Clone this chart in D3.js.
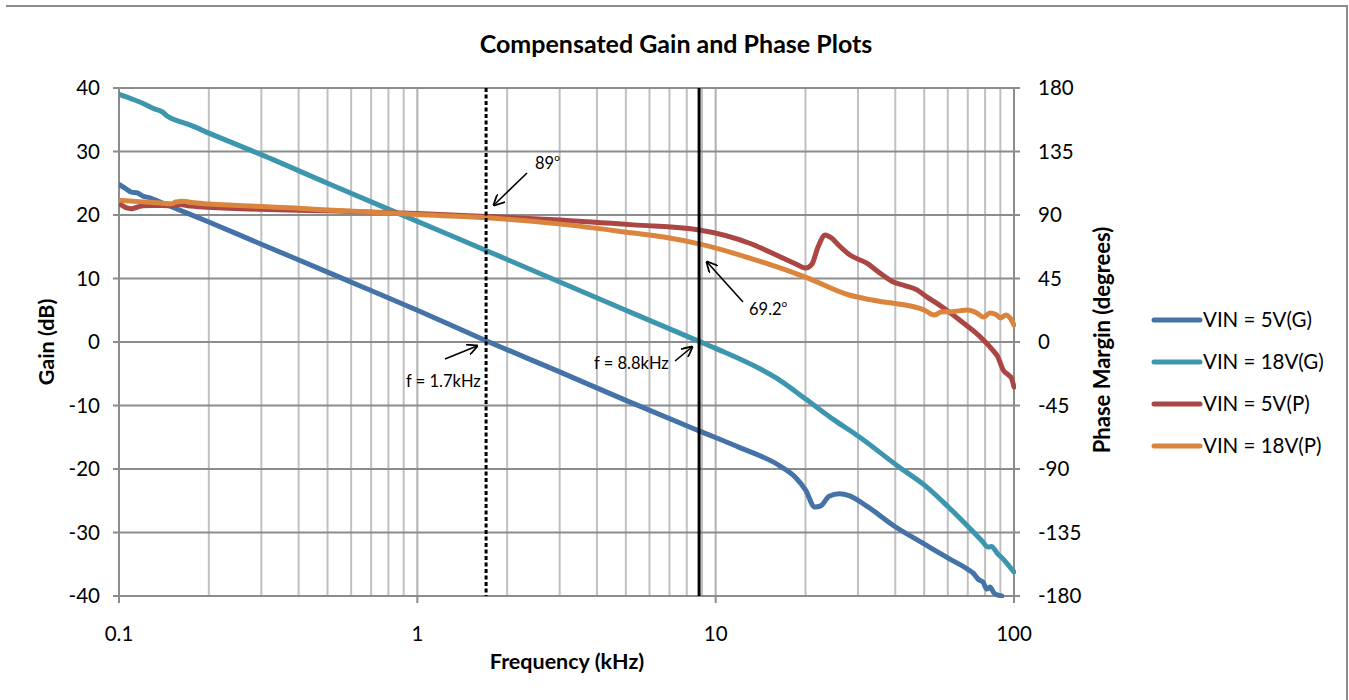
<!DOCTYPE html>
<html>
<head>
<meta charset="utf-8">
<script src="https://cdn.jsdelivr.net/npm/d3@7"></script>
<style>
  html, body { margin: 0; padding: 0; background: #fff; }
  #chart { width: 1349px; height: 700px; }
  text { font-family: Lato, "Open Sans", sans-serif; fill: #000; }
</style>
</head>
<body>
<div id="chart"></div>
<script>
// gain / phase curves (freq in kHz)
const freq5G  = [0.1,0.105,0.11,0.115,0.12,0.127,0.135,0.15,0.2,0.3,0.5,1,1.7,3,5,8.8,12,16.4,18.5,20,21.5,22.5,24,26,28,32,40,50,60,70,73,76,78.7,81,83,86,91];
const gain5G  = [24.8,24.2,23.6,23.5,23.0,22.7,22.2,21.3,18.9,15.4,11.0,5.0,0.2,-4.7,-9.2,-14.0,-16.6,-19.5,-21.3,-23.3,-26.0,-25.8,-24.3,-23.9,-24.2,-25.8,-29.1,-31.8,-34.0,-35.8,-36.4,-37.4,-37.8,-38.9,-38.6,-39.6,-40];

const freq18G = [0.1,0.11,0.12,0.13,0.14,0.145,0.15,0.16,0.17,0.2,0.3,0.5,1,2,5,8.8,10,16,20.2,25,30,41.5,50,60,73,78,81.8,84,88,92,96,100];
const gain18G = [39.0,38.3,37.6,36.8,36.2,35.6,35.2,34.7,34.3,32.9,29.5,25.0,19.0,13.0,5.0,0.1,-1.0,-5.7,-9.1,-12.3,-14.8,-19.8,-22.5,-25.9,-29.9,-31.3,-32.3,-32.2,-33.3,-34.2,-35.2,-36.2];

const freq5P  = [0.1,0.103,0.106,0.11,0.115,0.12,0.13,0.15,0.16,0.17,0.2,0.3,0.5,1,1.7,3,5.3,8.8,13,16.8,18.5,20,21,22,23.3,24.5,26,28.2,32,36,39.4,43,47.3,51,55,60,67,73,79,85,88,92,96,98,100];
const phase5P = [98,96.5,95.0,94.5,95.5,96.5,96.8,96.5,97.5,96.5,95.5,94.0,93.0,91.0,89.0,86.5,83.0,79.4,70.0,59.5,55.5,52.4,55,67,75.8,73.5,68,61.6,56,48,42.5,40,36.9,32,27.6,22,14.2,8,1.4,-6,-10,-19.8,-23.5,-25.5,-31.9];

const freq18P = [0.1,0.12,0.14,0.15,0.155,0.165,0.175,0.2,0.25,0.3,0.4,0.5,0.7,1,1.7,3.2,5.3,6.7,8.8,13,20,28,33,36,39,45,50,54,57,62,70,75,79,83,87,90,94,97,100];
const phase18P= [100.5,99.3,98.3,98.0,99.2,99.8,98.8,97.8,96.8,96.0,94.8,93.5,92.0,90.3,88.0,83.0,77.2,74.4,69.5,59.5,46,33.3,30,28.5,27.6,25.5,22.7,19.1,21.2,21.5,22.7,20.5,17.7,20.5,19.5,17,19.1,17,12];

const seriesNames = ["VIN = 5V(G)", "VIN = 18V(G)", "VIN = 5V(P)", "VIN = 18V(P)"];
const seriesColors = ["#4572A7", "#3D96AE", "#AA4643", "#DB843D"];

const xTicks = [0.1, 1, 10, 100];
const xTickLabels = ["0.1", "1", "10", "100"];
const gainTicks = [40, 30, 20, 10, 0, -10, -20, -30, -40];
const phaseTicks = [180, 135, 90, 45, 0, -45, -90, -135, -180];

// crossover markers
const markers = [
  { f: 1.7, dash: "4,2.5" },
  { f: 8.8, dash: null }
];

const W = 1349, H = 700;
const svg = d3.select('#chart').append('svg').attr('width', W).attr('height', H);

// outer chart border (cut off at left/bottom like the screenshot)
svg.append('path')
  .attr('d', 'M6,6 H1347 V700')
  .attr('fill', 'none').attr('stroke', '#8c8c8c').attr('stroke-width', 2);

const x = d3.scaleLog().domain([0.1, 100]).range([119, 1014]);
const yG = d3.scaleLinear().domain([-40, 40]).range([596, 88]);
const yP = d3.scaleLinear().domain([-180, 180]).range([596, 88]);

// minor vertical grid
const minor = [];
[0.1, 1, 10].forEach(d => { for (let k = 2; k <= 9; k++) minor.push(d * k); });
svg.append('g').selectAll('line').data(minor).join('line')
  .attr('x1', d => x(d)).attr('x2', d => x(d))
  .attr('y1', yG(40)).attr('y2', yG(-40))
  .attr('stroke', '#c0c0c0').attr('stroke-width', 2);

// decade lines
svg.append('g').selectAll('line').data(xTicks).join('line')
  .attr('x1', d => x(d)).attr('x2', d => x(d))
  .attr('y1', yG(40)).attr('y2', yG(-40))
  .attr('stroke', '#b0b0b0').attr('stroke-width', 2);

// horizontal grid
svg.append('g').selectAll('line').data(gainTicks).join('line')
  .attr('x1', x(0.1) - 6).attr('x2', x(100) + 6)
  .attr('y1', d => yG(d)).attr('y2', d => yG(d))
  .attr('stroke', '#8c8c8c').attr('stroke-width', 2);

// axis lines
const axisG = svg.append('g').attr('stroke', '#8c8c8c').attr('stroke-width', 2);
axisG.append('line').attr('x1', x(0.1)).attr('x2', x(0.1)).attr('y1', yG(40)).attr('y2', yG(-40));
axisG.append('line').attr('x1', x(100)).attr('x2', x(100)).attr('y1', yG(40)).attr('y2', yG(-40));
axisG.selectAll('line.xt').data(xTicks).join('line').attr('class', 'xt')
  .attr('x1', d => x(d)).attr('x2', d => x(d))
  .attr('y1', yG(-40)).attr('y2', yG(-40) + 7);

// tick labels
svg.append('g').selectAll('text').data(gainTicks).join('text')
  .attr('x', 100).attr('y', d => yG(d)).attr('dy', '0.35em')
  .attr('text-anchor', 'end').attr('font-size', 20.5).text(d => d);
svg.append('g').selectAll('text').data(phaseTicks).join('text')
  .attr('x', 1038).attr('y', d => yP(d)).attr('dy', '0.35em')
  .attr('text-anchor', 'start').attr('font-size', 20.5).text(d => d);
svg.append('g').selectAll('text').data(xTicks).join('text')
  .attr('x', d => x(d)).attr('y', 641)
  .attr('text-anchor', 'middle').attr('font-size', 20.5).text((d, i) => xTickLabels[i]);

// titles
svg.append('text').attr('x', 676).attr('y', 53).attr('text-anchor', 'middle')
  .attr('font-size', 25).attr('font-weight', 'bold').text('Compensated Gain and Phase Plots');
svg.append('text').attr('x', 567).attr('y', 669).attr('text-anchor', 'middle')
  .attr('font-size', 21.5).attr('font-weight', 'bold').text('Frequency (kHz)');
svg.append('text').attr('transform', 'translate(54,342) rotate(-90)').attr('text-anchor', 'middle')
  .attr('font-size', 21.5).attr('font-weight', 'bold').text('Gain (dB)');
svg.append('text').attr('transform', 'translate(1110,340) rotate(-90)').attr('text-anchor', 'middle')
  .attr('font-size', 22).attr('font-weight', 'bold').text('Phase Margin (degrees)');

// curves
svg.append('defs').append('clipPath').attr('id', 'plotclip')
  .append('rect').attr('x', x(0.1)).attr('y', yG(40) - 2)
  .attr('width', x(100) - x(0.1) + 2).attr('height', yG(-40) - yG(40) + 4);

const toPts = (fs, vs) => fs.map((f, i) => [f, vs[i]]);
const curves = [
  { pts: toPts(freq5G, gain5G), y: yG },
  { pts: toPts(freq18G, gain18G), y: yG },
  { pts: toPts(freq5P, phase5P), y: yP },
  { pts: toPts(freq18P, phase18P), y: yP }
];
const plotG = svg.append('g').attr('clip-path', 'url(#plotclip)');
curves.forEach((c, i) => {
  const line = d3.line().x(d => x(d[0])).y(d => c.y(d[1])).curve(d3.curveMonotoneX);
  plotG.append('path').datum(c.pts)
    .attr('d', line)
    .attr('fill', 'none')
    .attr('stroke', seriesColors[i])
    .attr('stroke-width', 5)
    .attr('stroke-linejoin', 'round')
    .attr('stroke-linecap', 'round');
});

// vertical crossover markers
svg.append('g').selectAll('line').data(markers).join('line')
  .attr('x1', d => x(d.f)).attr('x2', d => x(d.f))
  .attr('y1', yG(40)).attr('y2', yG(-40))
  .attr('stroke', '#000').attr('stroke-width', 3)
  .attr('stroke-dasharray', d => d.dash);

// arrows
svg.select('defs').append('marker')
  .attr('id', 'arr').attr('viewBox', '0 0 10 10').attr('refX', 9).attr('refY', 5)
  .attr('markerWidth', 7).attr('markerHeight', 7).attr('orient', 'auto')
  .append('path').attr('d', 'M0,0 L10,5 L0,10').attr('fill', 'none').attr('stroke', '#000').attr('stroke-width', 1.6);

const arrows = [
  [527, 173, 494, 205],
  [743, 302, 707, 262],
  [445, 359, 477, 346],
  [675, 361, 692, 347]
];
svg.append('g').selectAll('line').data(arrows).join('line')
  .attr('x1', d => d[0]).attr('y1', d => d[1]).attr('x2', d => d[2]).attr('y2', d => d[3])
  .attr('stroke', '#000').attr('stroke-width', 1.6).attr('marker-end', 'url(#arr)');

const deg = (t, xx, yy) => {
  const tx = svg.append('text').attr('x', xx).attr('y', yy).attr('font-size', 16.5);
  tx.append('tspan').text(t);
  tx.append('tspan').attr('font-size', 10).attr('dy', -8).text('o');
};
deg('89', 535, 169);
deg('69.2', 749, 315);
svg.append('text').attr('x', 406).attr('y', 387).attr('font-size', 16.5).text('f = 1.7kHz');
svg.append('text').attr('x', 594).attr('y', 369).attr('font-size', 16.5).text('f = 8.8kHz');

// legend
const leg = svg.append('g').selectAll('g').data(seriesNames).join('g')
  .attr('transform', (d, i) => `translate(1152,${320 + i * 42})`);
leg.append('line').attr('x1', 2).attr('x2', 48)
  .attr('stroke', (d, i) => seriesColors[i]).attr('stroke-width', 5).attr('stroke-linecap', 'round');
leg.append('text').attr('x', 51).attr('dy', '0.35em').attr('font-size', 20.5).text(d => d);
</script>
</body>
</html>
